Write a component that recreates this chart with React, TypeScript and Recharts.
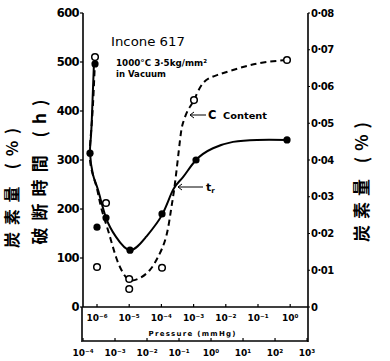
import {
  ComposedChart,
  Line,
  Scatter,
  XAxis,
  YAxis,
} from "recharts";

// log10 of pressure (mmHg) for the inner axis
const pressureTicks = [-6, -5, -4, -3, -2, -1, 0];
// lower auxiliary scale
const lowerTicks = [-4, -3, -2, -1, 0, 1, 2, 3];
const topTicks = [0, 1, 2];
const hourTicks = [0, 100, 200, 300, 400, 500, 600];
const carbonTicks = [0, 0.01, 0.02, 0.03, 0.04, 0.05, 0.06, 0.07, 0.08];

// rupture time curve (tr)
const trCurveLogP = [-6.093, -6.14, -6.186, -6.217, -6.124, -5.969, -5.72, -5.41, -4.975, -4.478, -3.981, -3.64, -3.329, -2.925, -2.398, -1.776, -1.031, -0.099];
const trCurveHours = [500, 420, 350, 314, 270, 239, 182, 143, 116, 143, 188, 239, 265, 300, 324, 337, 341, 341];

// carbon content curve
const cCurveLogP = [-6.062, -6.155, -6.217, -6.031, -5.876, -5.658, -5.41, -5.193, -4.975, -4.665, -4.354, -4.106, -3.857, -3.702, -3.578, -3.422, -3.329, -3.174, -2.988, -2.708, -2.273, -1.776, -1.248, -0.72, -0.099];
const cCurvePct = [0.0672, 0.0509, 0.04, 0.0332, 0.0272, 0.0209, 0.0136, 0.0093, 0.0073, 0.0079, 0.0101, 0.0136, 0.019, 0.0264, 0.0337, 0.0454, 0.0501, 0.0536, 0.0563, 0.0609, 0.0631, 0.0645, 0.0658, 0.0667, 0.0672];

// measured points
const trPointLogP = [-6.062, -6.217, -6.0, -5.72, -4.975, -3.981, -2.925, -0.099];
const trPointHours = [496, 314, 163, 182, 116, 190, 300, 341];
const cPointLogP = [-6.062, -5.72, -6.0, -5.0, -5.0, -3.981, -2.988, -0.099];
const cPointPct = [0.068, 0.0283, 0.0109, 0.0076, 0.0049, 0.0107, 0.0563, 0.0672];

const zip = (xs: number[], ys: number[]) => xs.map((x, i) => ({ x, y: ys[i] }));

const trCurve = zip(trCurveLogP, trCurveHours);
const cCurve = zip(cCurveLogP, cCurvePct);
const trPoints = zip(trPointLogP, trPointHours);
const cPoints = zip(cPointLogP, cPointPct);

const SUP = "⁰¹²³⁴⁵⁶⁷⁸⁹";
const pow10 = (n: number) =>
  "10" + (n < 0 ? "⁻" : "") + String(Math.abs(n)).split("").map((d) => SUP[+d]).join("");

const FONT = "DejaVu Sans";

const InnerTick = (props: any) => {
  const { x, y, payload } = props;
  return (
    <g>
      <line x1={x} y1={y} x2={x} y2={y - 3} stroke="#000" strokeWidth={1.2} />
      <text x={x} y={y + 14} textAnchor="middle" fontSize={9} fontWeight="bold" fontFamily={FONT}>
        {pow10(payload.value)}
      </text>
    </g>
  );
};

const LowerTick = (props: any) => {
  const { x, y, payload } = props;
  return (
    <g>
      <line x1={x} y1={y} x2={x} y2={y - 3} stroke="#000" strokeWidth={1.2} />
      <text x={x} y={y + 15} textAnchor="middle" fontSize={9} fontWeight="bold" fontFamily={FONT}>
        {pow10(payload.value)}
      </text>
    </g>
  );
};

const TopTick = (props: any) => {
  const { x, y } = props;
  return <line x1={x} y1={y} x2={x} y2={y + 3} stroke="#000" strokeWidth={1.2} />;
};

const FilledDot = (props: any) => (
  <circle cx={props.cx} cy={props.cy} r={3.6} fill="#000" />
);
const OpenDot = (props: any) => (
  <circle cx={props.cx} cy={props.cy} r={3.3} fill="#fff" stroke="#000" strokeWidth={1.5} />
);

export default function App() {
  return (
    <div style={{ position: "absolute", left: 0, top: 0, width: 390, height: 361, background: "#fff" }}>
      <ComposedChart
        width={390}
        height={361}
        data={trPoints}
        margin={{ top: 13, right: 0, bottom: 0, left: 0 }}
      >
        <XAxis
          xAxisId={0}
          dataKey="x"
          type="number"
          domain={[-6.435, 0.553]}
          allowDataOverflow
          ticks={pressureTicks}
          height={34}
          tickSize={0}
          tickMargin={0}
          tickLine={false}
          tick={<InnerTick />}
          axisLine={{ stroke: "#000", strokeWidth: 1.6 }}
        />
        <XAxis
          xAxisId={1}
          dataKey="x"
          type="number"
          domain={[-4, 3.03]}
          allowDataOverflow
          ticks={lowerTicks}
          height={20}
          tickSize={0}
          tickMargin={0}
          tickLine={false}
          tick={<LowerTick />}
          axisLine={{ stroke: "#000", strokeWidth: 1.6 }}
        />
        <XAxis
          xAxisId={2}
          dataKey="x"
          orientation="top"
          type="number"
          domain={[-4, 3.03]}
          allowDataOverflow
          ticks={topTicks}
          height={0}
          tickSize={0}
          tickMargin={0}
          tickLine={false}
          tick={<TopTick />}
          axisLine={{ stroke: "#000", strokeWidth: 1.6 }}
        />
        <YAxis
          yAxisId="h"
          width={83}
          domain={[0, 600]}
          allowDataOverflow
          ticks={hourTicks}
          tickSize={3}
          tickMargin={1}
          tickLine={{ stroke: "#000", strokeWidth: 1.2 }}
          axisLine={{ stroke: "#000", strokeWidth: 1.6 }}
          tick={{ fill: "#000", fontSize: 11.5, fontWeight: "bold", fontFamily: FONT, letterSpacing: -0.6 }}
        />
        <YAxis
          yAxisId="c"
          orientation="right"
          width={82}
          domain={[0, 0.08]}
          allowDataOverflow
          ticks={carbonTicks}
          tickSize={2}
          tickMargin={1}
          tickLine={{ stroke: "#000", strokeWidth: 1.2 }}
          axisLine={{ stroke: "#000", strokeWidth: 1.6 }}
          tickFormatter={(v: number) => (v === 0 ? "0" : v.toFixed(2).replace(".", "·"))}
          tick={{ fill: "#000", fontSize: 10, fontWeight: "bold", fontFamily: FONT, letterSpacing: -0.5, textAnchor: "start" }}
        />
        <Line
          data={cCurve}
          dataKey="y"
          xAxisId={0}
          yAxisId="c"
          type="natural"
          stroke="#000"
          strokeWidth={2}
          strokeDasharray="6 4"
          dot={false}
          activeDot={false}
          isAnimationActive={false}
        />
        <Line
          data={trCurve}
          dataKey="y"
          xAxisId={0}
          yAxisId="h"
          type="natural"
          stroke="#000"
          strokeWidth={2}
          dot={false}
          activeDot={false}
          isAnimationActive={false}
        />
        <Scatter
          data={trPoints}
          dataKey="y"
          xAxisId={0}
          yAxisId="h"
          shape={<FilledDot />}
          isAnimationActive={false}
        />
        <Scatter
          data={cPoints}
          dataKey="y"
          xAxisId={0}
          yAxisId="c"
          shape={<OpenDot />}
          isAnimationActive={false}
        />
      </ComposedChart>
      <svg
        width={390}
        height={361}
        style={{ position: "absolute", left: 0, top: 0, pointerEvents: "none" }}
        fontFamily={FONT}
      >
        <line x1={82} y1={307} x2={82} y2={342} stroke="#000" strokeWidth={1.6} />
        <line x1={308} y1={307} x2={308} y2={342} stroke="#000" strokeWidth={1.6} />
        <text x={192} y={336} textAnchor="middle" fontSize={7} fontWeight="bold" textLength={87} lengthAdjust="spacing">
          Pressure (mmHg)
        </text>
        <text x={111} y={46} fontSize={13} textLength={74} lengthAdjust="spacingAndGlyphs">Incone 617</text>
        <text x={116} y={66} fontSize={9.5} fontWeight="bold" textLength={91} lengthAdjust="spacingAndGlyphs">1000°C 3·5kg/mm²</text>
        <text x={116} y={77} fontSize={9.5} fontWeight="bold" textLength={50} lengthAdjust="spacingAndGlyphs">in Vacuum</text>
        <line x1={190} y1={115} x2={206} y2={115} stroke="#000" strokeWidth={1} />
        <polyline points="194,112 190,115 194,118" fill="none" stroke="#000" strokeWidth={1} />
        <text x={208} y={119} fontSize={11.5} fontWeight="bold">C</text>
        <text x={223} y={119} fontSize={8.5} fontWeight="bold" textLength={44} lengthAdjust="spacingAndGlyphs">Content</text>
        <line x1={178} y1={187} x2={203} y2={187} stroke="#000" strokeWidth={1} />
        <polyline points="182,184 178,187 182,190" fill="none" stroke="#000" strokeWidth={1} />
        <text x={206} y={191} fontSize={11} fontWeight="bold">t<tspan fontSize={7} dy={2}>r</tspan></text>
        <text
          transform="translate(46 172) rotate(-90)"
          textAnchor="middle"
          fontSize={17}
          fontWeight="bold"
          fontFamily="Noto Sans CJK JP"
          textLength={145}
          lengthAdjust="spacing"
        >
          破断時間 (h)
        </text>
        <text
          transform="translate(18 188) rotate(-90)"
          textAnchor="middle"
          fontSize={16}
          fontWeight="bold"
          fontFamily="Noto Sans CJK JP"
          textLength={120}
          lengthAdjust="spacing"
        >
          炭素量 (%)
        </text>
        <text
          transform="translate(368 182) rotate(-90)"
          textAnchor="middle"
          fontSize={17}
          fontWeight="bold"
          fontFamily="Noto Sans CJK JP"
          textLength={120}
          lengthAdjust="spacing"
        >
          炭素量 (%)
        </text>
      </svg>
    </div>
  );
}
